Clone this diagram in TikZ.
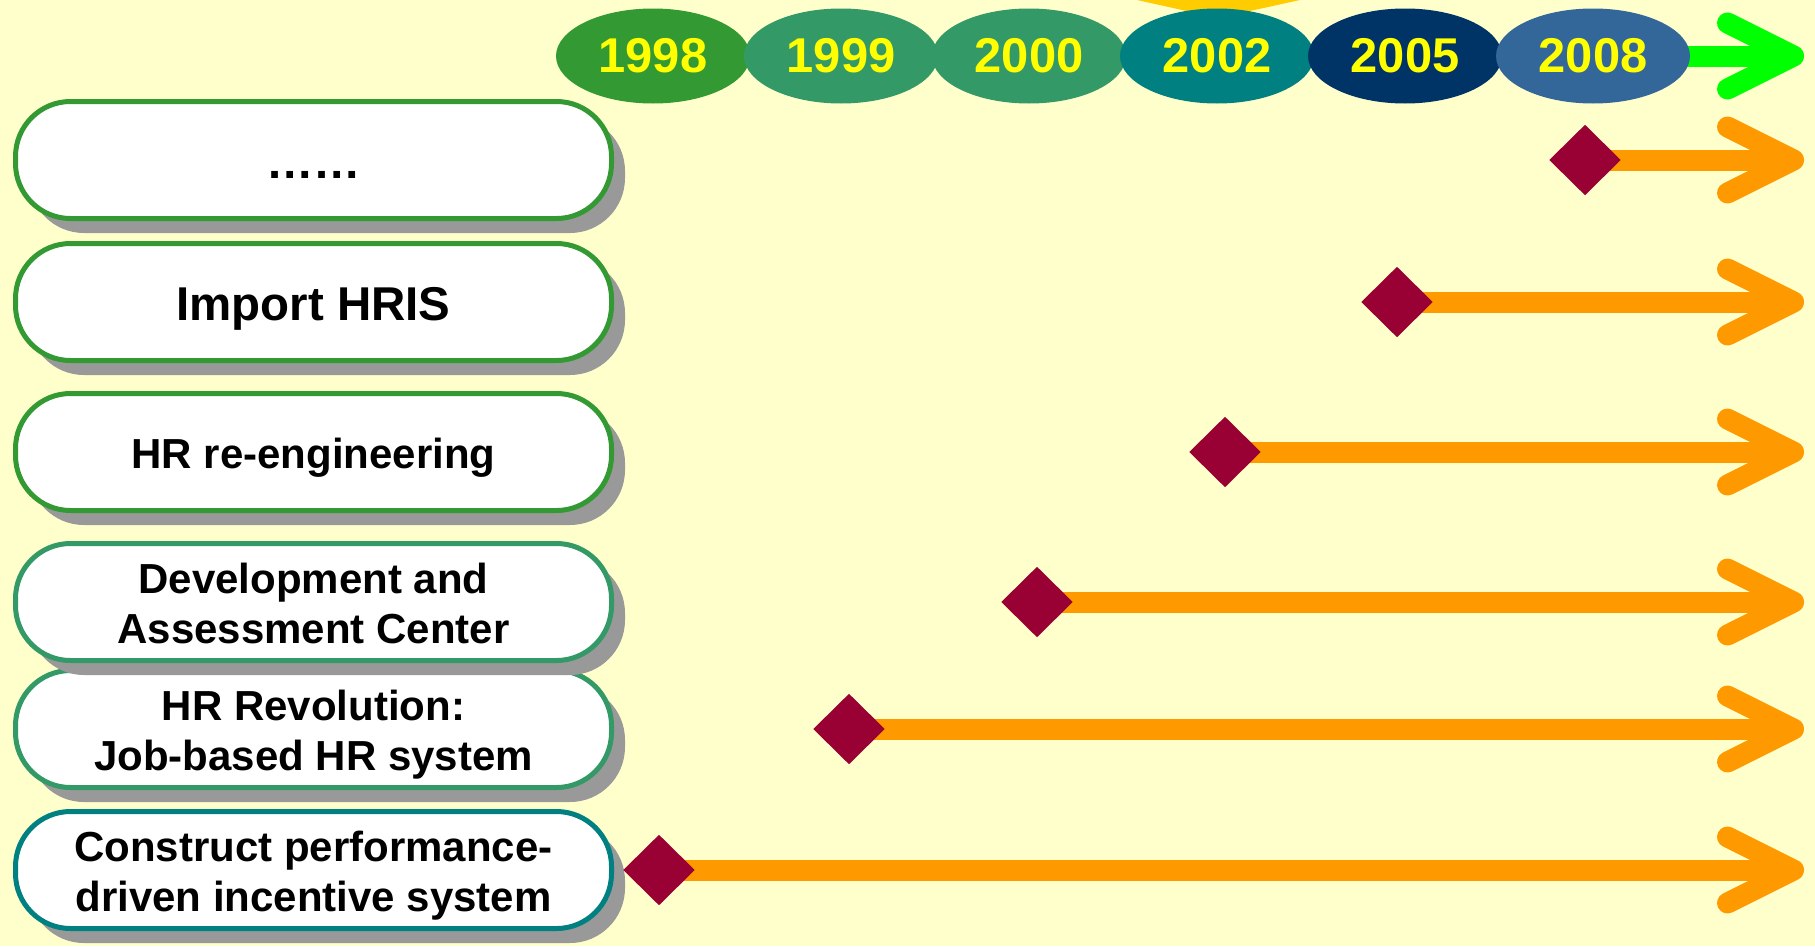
\documentclass[tikz,border=0pt]{standalone}
\usepackage{fontspec}
\setmainfont{Liberation Sans}
\usetikzlibrary{shapes.geometric,shadows,arrows.meta}
\definecolor{paper}{HTML}{FFFFCC}
\definecolor{greenA}{HTML}{339933}
\definecolor{greenB}{HTML}{339966}
\definecolor{tealA}{HTML}{008080}
\definecolor{navyA}{HTML}{003366}
\definecolor{blueA}{HTML}{336699}
\definecolor{sunny}{HTML}{FFCC00}
\definecolor{yeartext}{HTML}{FFFF00}
\definecolor{shaft}{HTML}{FF9900}
\definecolor{lime}{HTML}{00FF00}
\definecolor{wine}{HTML}{990033}
\definecolor{shade}{HTML}{999999}
\pgfdeclarelayer{back}
\pgfsetlayers{back,main}
\begin{document}
\begin{tikzpicture}[x=0.1mm, y=-0.1mm,
  year/.style={ellipse, fill=#1, minimum width=19.4mm, minimum height=9.5mm,
    inner sep=0pt, text=yeartext, font=\fontsize{13.9}{16}\selectfont\bfseries},
  hrbox/.style={rectangle, rounded corners=5.5mm, draw=#1, line width=0.5mm, fill=white,
    minimum width=59.6mm, minimum height=11.7mm, inner sep=0pt, align=center,
    drop shadow={shadow xshift=1.35mm, shadow yshift=-1.45mm, fill=shade, opacity=1}},
  bigtext/.style={font=\fontsize{13.5}{16}\selectfont\bfseries, text height=10.8pt, text depth=0pt},
  smalltext/.style={font=\fontsize{11.95}{14.2}\selectfont\bfseries, text height=9.56pt, text depth=0pt},
  twolines/.style={smalltext, text height=23.76pt},
  milestone/.style={diamond, fill=wine, minimum width=7.2mm, minimum height=7.1mm, inner sep=0pt},
  timeline/.style={line width=2.1mm, draw=#1, -{Straight Barb[length=6.6mm, width=6.6mm, round]}}
]
\useasboundingbox (0,0) rectangle (1815,946);
\begin{pgfonlayer}{back}
\fill[paper] (0,0) rectangle (1815,946);
\end{pgfonlayer}

%years
\fill[sunny] (1137,0) -- (1300,0) -- (1218,18) -- cycle;
\foreach \yr/\col [count=\i from 0] in {1998/greenA,1999/greenB,2000/greenB,2002/tealA,2005/navyA,2008/blueA}
{ \node[year=\col] (y\yr) at (653+\i*188,56) {\yr}; }
\coordinate (gtip) at (1804,56);
\begin{pgfonlayer}{back}
\draw[timeline=lime] (y2008.center) -- (gtip);
\end{pgfonlayer}

%steps, lowest first
\node[hrbox=tealA, twolines] (box6) at (313.5,870) {Construct performance-\\driven incentive system};
\node[hrbox=greenB, twolines] (box5) at (313.5,729) {HR Revolution:\\Job-based HR system};
\node[hrbox=greenB, twolines] (box4) at (313.5,602) {Development and\\Assessment Center};
\node[hrbox=greenA, smalltext] (box3) at (313.5,452) {HR re-engineering};
\node[hrbox=greenA, bigtext] (box2) at (313.5,302) {Import HRIS};
\node[hrbox=greenA, bigtext] (box1) at (313.5,160) {……};

%milestones
\foreach \n/\x/\y in {1/1585/160,2/1397/302,3/1225/452,4/1037/602,5/849/729,6/659/870}
{
\node[milestone] (m\n) at (\x,\y) {};
\coordinate (t\n) at (1804,\y);
\begin{pgfonlayer}{back}
\draw[timeline=shaft] (m\n.center) -- (t\n);
\end{pgfonlayer}
}
\end{tikzpicture}
\end{document}
